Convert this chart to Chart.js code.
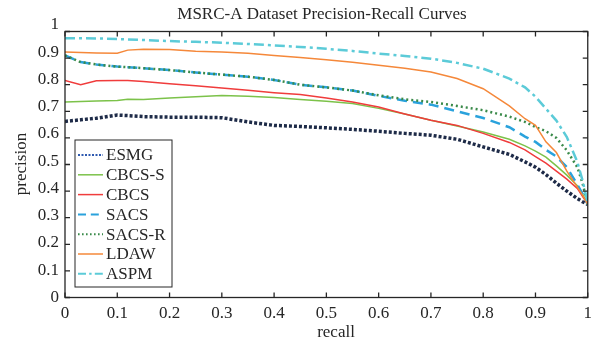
<!DOCTYPE html>
<html>
<head>
<meta charset="utf-8">
<script src="https://cdn.jsdelivr.net/npm/chart.js@4/dist/chart.umd.min.js"></script>
<style>
  html, body { margin: 0; padding: 0; background: #fff; }
  #wrap { width: 598px; height: 343px; }
</style>
</head>
<body>
<div id="wrap"><canvas id="prChart"></canvas></div>
<script>
// recall points shared by every curve
const recall = [0, 0.03, 0.06, 0.1, 0.12, 0.15, 0.2, 0.25, 0.3, 0.35, 0.4, 0.45, 0.5, 0.55,
                0.6, 0.65, 0.7, 0.75, 0.8, 0.85, 0.88, 0.9, 0.92, 0.94, 0.96, 0.98, 0.99, 1];

const esmg   = [0.662, 0.668, 0.674, 0.686, 0.684, 0.680, 0.678, 0.678, 0.676, 0.660, 0.647, 0.643, 0.638, 0.632,
                0.625, 0.617, 0.610, 0.595, 0.566, 0.538, 0.510, 0.490, 0.462, 0.430, 0.400, 0.372, 0.360, 0.350];
const cbcsS  = [0.735, 0.737, 0.739, 0.741, 0.745, 0.744, 0.750, 0.755, 0.759, 0.757, 0.752, 0.744, 0.738, 0.729,
                0.711, 0.690, 0.666, 0.645, 0.622, 0.595, 0.570, 0.550, 0.528, 0.495, 0.460, 0.420, 0.390, 0.350];
const cbcs   = [0.816, 0.800, 0.815, 0.816, 0.816, 0.812, 0.804, 0.796, 0.788, 0.779, 0.770, 0.763, 0.750, 0.735,
                0.716, 0.690, 0.666, 0.647, 0.617, 0.583, 0.555, 0.530, 0.505, 0.475, 0.445, 0.410, 0.380, 0.350];
const sacs   = [0.910, 0.885, 0.876, 0.868, 0.866, 0.862, 0.855, 0.846, 0.838, 0.830, 0.818, 0.800, 0.790, 0.778,
                0.758, 0.740, 0.725, 0.700, 0.675, 0.640, 0.605, 0.585, 0.555, 0.530, 0.490, 0.425, 0.390, 0.350];
const sacsR  = [0.910, 0.885, 0.876, 0.868, 0.866, 0.862, 0.855, 0.846, 0.838, 0.830, 0.818, 0.800, 0.790, 0.778,
                0.760, 0.745, 0.735, 0.720, 0.704, 0.680, 0.660, 0.641, 0.625, 0.600, 0.553, 0.490, 0.430, 0.350];
const ldaw   = [0.923, 0.921, 0.919, 0.918, 0.930, 0.933, 0.932, 0.926, 0.923, 0.918, 0.910, 0.902, 0.894, 0.884,
                0.873, 0.862, 0.848, 0.823, 0.785, 0.720, 0.672, 0.647, 0.585, 0.545, 0.475, 0.415, 0.385, 0.350];
const aspm   = [0.975, 0.975, 0.974, 0.972, 0.970, 0.968, 0.964, 0.961, 0.958, 0.953, 0.948, 0.942, 0.935, 0.927,
                0.917, 0.908, 0.898, 0.882, 0.860, 0.823, 0.790, 0.755, 0.710, 0.665, 0.603, 0.510, 0.440, 0.355];

const methods = ["ESMG", "CBCS-S", "CBCS", "SACS", "SACS-R", "LDAW", "ASPM"];
const xTickLabels = ["0", "0.1", "0.2", "0.3", "0.4", "0.5", "0.6", "0.7", "0.8", "0.9", "1"];
const yTickLabels = ["0", "0.1", "0.2", "0.3", "0.4", "0.5", "0.6", "0.7", "0.8", "0.9", "1"];

const seriesValues = [esmg, cbcsS, cbcs, sacs, sacsR, ldaw, aspm];
const lineColors  = ["#1e2b48", "#7cc24a", "#f03c3c", "#2aa2dc", "#3a8a4a", "#f5883a", "#5ccbd8"];
const legendColors = ["#2f5ab0", "#7cc24a", "#f03c3c", "#2aa2dc", "#3a8a4a", "#f5883a", "#5ccbd8"];
const lineWidths  = [3.5, 1.5, 1.5, 2.5, 2.5, 1.5, 2.5];
const lineDashes  = [[3, 2], [], [], [10, 6], [2, 3], [], [10, 4, 3, 4]];

const FONT = '17px "Liberation Serif", "Times New Roman", serif';

const datasets = methods.map((name, i) => ({
    label: name,
    data: recall.map((r, k) => ({ x: r, y: seriesValues[i][k] })),
    borderColor: lineColors[i],
    borderWidth: lineWidths[i],
    borderDash: lineDashes[i],
    pointRadius: 0,
    tension: 0,
    fill: false,
    order: methods.length - i
}));

// box, inward ticks, y labels, titles and legend (MATLAB look)
const frame = {
    id: 'frame',
    afterDraw(chart) {
        const { ctx, chartArea: a, scales: { x, y } } = chart;
        ctx.save();
        ctx.strokeStyle = '#262626';
        ctx.lineWidth = 1.3;
        ctx.setLineDash([]);
        ctx.strokeRect(a.left, a.top, a.right - a.left, a.bottom - a.top);
        ctx.beginPath();
        x.ticks.forEach(t => {
            const px = x.getPixelForValue(t.value);
            ctx.moveTo(px, a.bottom); ctx.lineTo(px, a.bottom - 5);
            ctx.moveTo(px, a.top); ctx.lineTo(px, a.top + 5);
        });
        y.ticks.forEach(t => {
            const py = y.getPixelForValue(t.value);
            ctx.moveTo(a.left, py); ctx.lineTo(a.left + 5, py);
            ctx.moveTo(a.right, py); ctx.lineTo(a.right - 5, py);
        });
        ctx.stroke();

        ctx.fillStyle = '#262626';
        ctx.font = FONT;
        ctx.textAlign = 'right';
        ctx.textBaseline = 'middle';
        y.ticks.forEach(t => {
            const i = Math.round(t.value * 10);
            ctx.fillText(yTickLabels[i], a.left - 6, y.getPixelForValue(t.value) - t.value * 6.5);
        });

        ctx.textAlign = 'center';
        ctx.fillText("MSRC-A Dataset Precision-Recall Curves", 322, 15);
        ctx.fillText("recall", 336, 333);
        ctx.save();
        ctx.translate(22, 164);
        ctx.rotate(-Math.PI / 2);
        ctx.fillText("precision", 0, 0);
        ctx.restore();

        // legend
        const lx = 75, ly = 140, lw = 97, lh = 147;
        ctx.fillStyle = '#fff';
        ctx.fillRect(lx, ly, lw, lh);
        ctx.strokeStyle = '#262626';
        ctx.lineWidth = 1;
        ctx.strokeRect(lx, ly, lw, lh);
        ctx.textAlign = 'left';
        methods.forEach((name, i) => {
            const ry = ly + 15 + i * 19.8;
            ctx.beginPath();
            ctx.strokeStyle = legendColors[i];
            ctx.lineWidth = i === 0 ? 2 : Math.min(lineWidths[i], 2);
            ctx.setLineDash(i === 0 ? [2, 1.5] : lineDashes[i].map(d => d * 0.8));
            ctx.moveTo(lx + 3, ry);
            ctx.lineTo(lx + 28, ry);
            ctx.stroke();
            ctx.setLineDash([]);
            ctx.fillStyle = '#262626';
            ctx.fillText(name, lx + 31, ry + 1);
        });
        ctx.restore();
    }
};

new Chart(document.getElementById('prChart'), {
    type: 'line',
    data: { datasets: datasets },
    options: {
        responsive: true,
        maintainAspectRatio: false,
        animation: false,
        layout: { padding: { left: 0, right: 7, top: 31.5, bottom: 0 } },
        plugins: { legend: { display: false }, tooltip: { enabled: false }, title: { display: false } },
        scales: {
            x: {
                type: 'linear', min: 0, max: 1,
                ticks: {
                    stepSize: 0.1, padding: 6, color: '#262626',
                    font: { family: '"Liberation Serif", "Times New Roman", serif', size: 17 },
                    callback: v => xTickLabels[Math.round(v * 10)],
                    maxRotation: 0
                },
                grid: { display: false, drawTicks: false },
                border: { display: false },
                afterFit: s => { s.height = 45.5; }
            },
            y: {
                type: 'linear', min: 0, max: 1,
                ticks: { stepSize: 0.1, display: false },
                grid: { display: false, drawTicks: false },
                border: { display: false },
                afterFit: s => { s.width = 65; }
            }
        }
    },
    plugins: [frame]
});
</script>
</body>
</html>
